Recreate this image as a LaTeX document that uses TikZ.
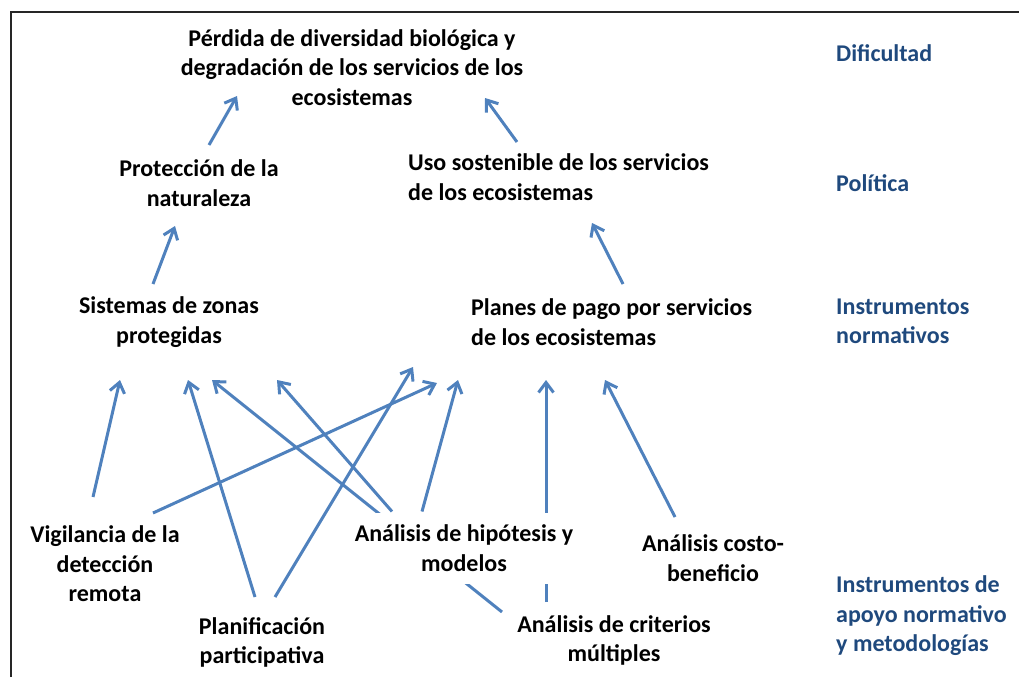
\documentclass[tikz,border=0pt]{standalone}
\usepackage{fontspec}
\setmainfont{Carlito}
\usetikzlibrary{arrows.meta,backgrounds}
\definecolor{arrblue}{HTML}{4F81BD}
\definecolor{lblblue}{HTML}{1F497D}
\begin{document}
\begin{tikzpicture}[x=1pt,y=-1pt,
  txt/.style={font=\fontsize{24}{29.5}\selectfont\bfseries, align=center, inner sep=0pt, text=black},
  txtl/.style={txt, align=left, anchor=west},
  lbl/.style={font=\fontsize{24}{29.5}\selectfont\bfseries, align=left, anchor=west, inner sep=0pt, text=lblblue},
  arr/.style={draw=arrblue, line width=3pt, -{Straight Barb[length=10pt,width=15pt]}}]
\useasboundingbox (0,0) rectangle (1019,677);
\draw[line width=2pt, color=black!85] (11,677) -- (11,12.5) -- (1019,12.5);

\node[txt] (per) at (352,67.5) {Pérdida de diversidad biológica y\\degradación de los servicios de los\\ecosistemas};
\node[txt] (pro) at (199,183) {Protección de la\\naturaleza};
\node[txtl] (uso) at (408,177) {Uso sostenible de los servicios\\de los ecosistemas};
\node[txt] (sis) at (169,322) {Sistemas de zonas\\protegidas};
\node[txtl] (pla) at (471,322) {Planes de pago por servicios\\de los ecosistemas};
\node[txt] (vig) at (105,564) {Vigilancia de la\\detección\\remota};
\node[txt] (plan) at (262,642.5) {Planificación\\participativa};
\node[txt, fill=white, minimum width=232pt, minimum height=71pt] (hip) at (464,548) {Análisis de hipótesis y\\modelos};
\node[txt] (cos) at (713,558) {Análisis costo-\\beneficio};
\node[txt] (cri) at (614,640.5) {Análisis de criterios\\múltiples};

\node[lbl] (dif) at (836,53) {Dificultad};
\node[lbl] (pol) at (836,183) {Política};
\node[lbl] (ins) at (836,321.5) {Instrumentos\\normativos};
\node[lbl] (apo) at (836,616) {Instrumentos de\\apoyo normativo\\y metodologías};

\begin{scope}[on background layer]
\draw[arr] ([shift={(10,-38)}]pro.center) -- ([shift={(-115,28.5)}]per.center);
\draw[arr] ([shift={(109,-35)}]uso.west) -- ([shift={(133,30.5)}]per.center);
\draw[arr] ([shift={(-16,-38)}]sis.center) -- ([shift={(-24,43)}]pro.center);
\draw[arr] ([shift={(152,-38)}]pla.west) -- ([shift={(184,46)}]uso.west);
\draw[arr] ([shift={(-12,-67)}]vig.center) -- ([shift={(-49,58)}]sis.center);
\draw[arr] ([shift={(48,-51)}]vig.center) -- ([shift={(-34,61)}]pla.west);
\draw[arr] ([shift={(-7,-45.5)}]plan.center) -- ([shift={(19,58)}]sis.center);
\draw[arr] ([shift={(13,-45.5)}]plan.center) -- ([shift={(-58,45)}]pla.west);
\draw[arr] ([shift={(-72,-36.5)}]hip.center) -- ([shift={(108,58)}]sis.center);
\draw[arr] ([shift={(-112,-28.5)}]cri.center) -- ([shift={(43,58)}]sis.center);
\draw[arr] ([shift={(-42,-36.5)}]hip.center) -- ([shift={(-13,58)}]pla.west);
\draw[arr] ([shift={(-68,-38.5)}]cri.center) -- ([shift={(75,58)}]pla.west);
\draw[arr] ([shift={(-38,-41)}]cos.center) -- ([shift={(134,58)}]pla.west);
\end{scope}
\end{tikzpicture}
\end{document}
